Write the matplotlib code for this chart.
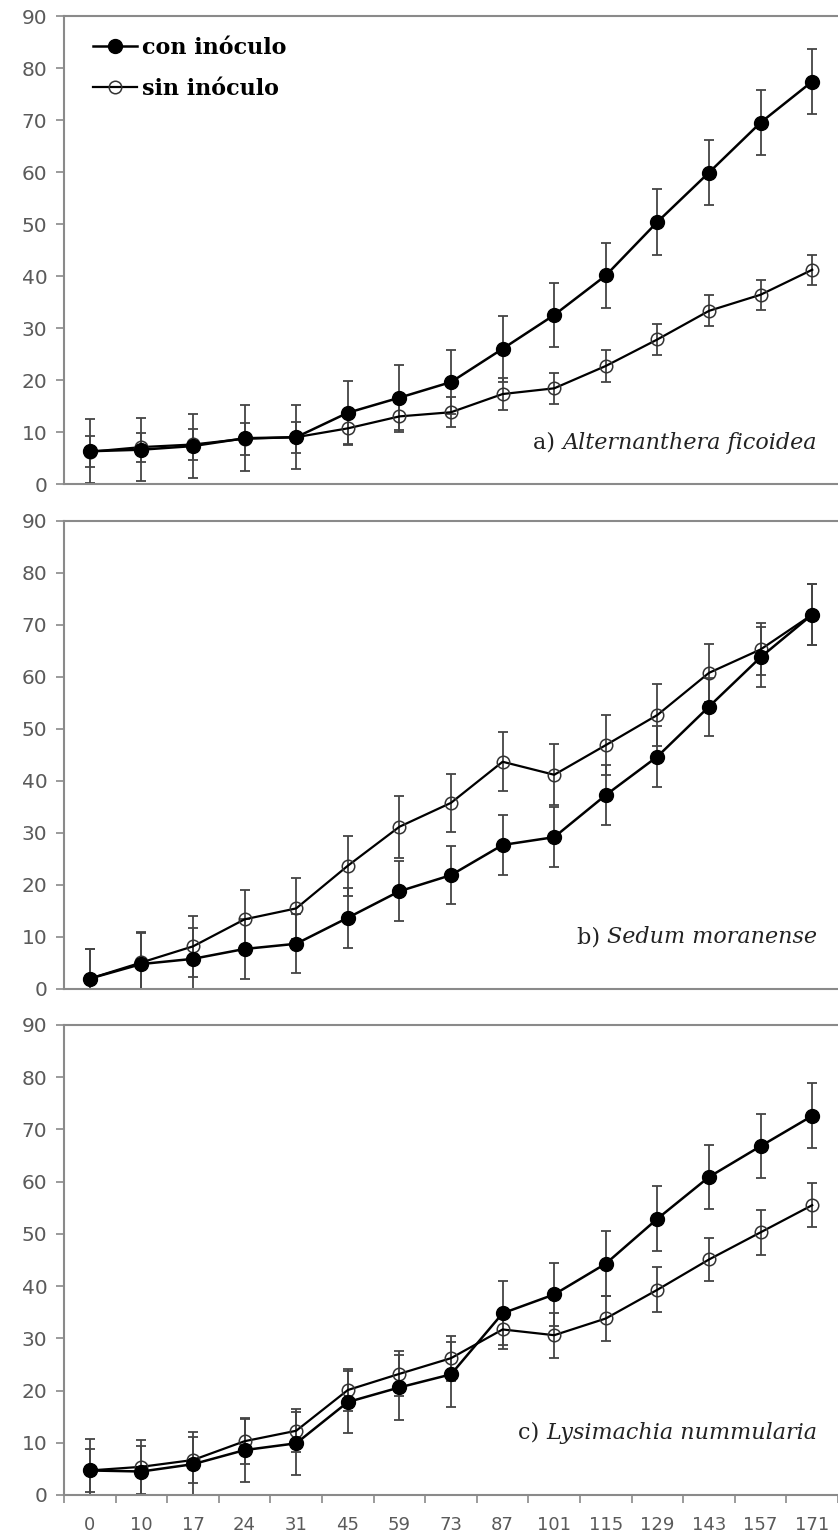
import numpy as np
import matplotlib
matplotlib.use("Agg")
import matplotlib.pyplot as plt
from matplotlib.ticker import FixedLocator, NullFormatter

# ---- data (days after planting, % cover) ----
days = ['0', '10', '17', '24', '31', '45', '59', '73', '87', '101', '115', '129', '143', '157', '171']

# a) Alternanthera ficoidea
a_con     = [6.3, 6.6, 7.3, 8.8, 9.0, 13.7, 16.6, 19.6, 26.0, 32.5, 40.1, 50.4, 59.9, 69.5, 77.4]
a_con_err = [6.2, 6.1, 6.2, 6.3, 6.2, 6.2, 6.3, 6.1, 6.3, 6.2, 6.2, 6.3, 6.3, 6.3, 6.2]
a_sin     = [6.2, 7.1, 7.6, 8.7, 9.0, 10.7, 13.0, 13.8, 17.3, 18.4, 22.7, 27.8, 33.3, 36.4, 41.2]
a_sin_err = [3.0, 2.8, 3.0, 3.1, 3.0, 3.0, 3.0, 2.9, 3.0, 3.0, 3.0, 3.0, 3.0, 2.9, 2.9]

# b) Sedum moranense
b_con     = [2.0, 4.8, 5.8, 7.7, 8.7, 13.7, 18.8, 21.9, 27.7, 29.2, 37.3, 44.7, 54.3, 63.8, 72.0]
b_con_err = [5.6, 6.0, 6.0, 5.7, 5.7, 5.8, 5.8, 5.6, 5.8, 5.8, 5.7, 5.8, 5.6, 5.8, 5.8]
b_sin     = [2.0, 5.1, 8.2, 13.4, 15.5, 23.7, 31.2, 35.8, 43.7, 41.2, 46.9, 52.7, 60.8, 65.3, 72.0]
b_sin_err = [5.6, 5.8, 5.8, 5.7, 5.9, 5.8, 6.0, 5.6, 5.7, 5.9, 5.8, 6.0, 5.6, 5.0, 5.8]

# c) Lysimachia nummularia
c_con     = [4.7, 4.5, 5.9, 8.6, 9.9, 17.8, 20.6, 23.1, 34.8, 38.4, 44.3, 52.9, 60.9, 66.8, 72.6]
c_con_err = [6.0, 4.9, 6.1, 6.1, 6.0, 6.0, 6.2, 6.2, 6.1, 6.1, 6.2, 6.2, 6.1, 6.1, 6.2]
c_sin     = [4.7, 5.4, 6.7, 10.3, 12.3, 20.1, 23.2, 26.2, 31.7, 30.6, 33.8, 39.3, 45.1, 50.3, 55.5]
c_sin_err = [4.2, 5.2, 4.4, 4.3, 4.1, 4.1, 4.3, 4.3, 3.8, 4.3, 4.3, 4.3, 4.2, 4.3, 4.2]

panels = [
    ('a)', 'Alternanthera ficoidea', a_con, a_con_err, a_sin, a_sin_err, 0.088),
    ('b)', 'Sedum moranense',        b_con, b_con_err, b_sin, b_sin_err, 0.111),
    ('c)', 'Lysimachia nummularia',  c_con, c_con_err, c_sin, c_sin_err, 0.132),
]

W, H = 838, 1538
fig = plt.figure(figsize=(W / 100, H / 100), dpi=100)
fig.patch.set_facecolor('white')

# axes boxes in pixels: (top, bottom)
boxes = [(16, 484), (521, 989), (1025, 1495)]
left_px, right_px = 64, 838

spine_col = '#8a8a8a'
tick_col = '#5a5a5a'
err_col = '#444444'
x = np.arange(len(days))

for i, ((lab, species, con, con_err, sin, sin_err, ty), (top, bot)) in enumerate(zip(panels, boxes)):
    ax = fig.add_axes([left_px / W, 1 - bot / H, (right_px - left_px) / W, (bot - top) / H])

    ax.errorbar(x, sin, yerr=sin_err, fmt='none', ecolor=err_col, elinewidth=1.3,
                capsize=3.5, capthick=1.3, zorder=2)
    ax.errorbar(x, con, yerr=con_err, fmt='none', ecolor=err_col, elinewidth=1.3,
                capsize=3.5, capthick=1.3, zorder=2)
    ax.plot(x, sin, '-o', color='black', lw=1.6, ms=9, mfc='none', mec='#333333',
            mew=1.1, label='sin inóculo', zorder=3)
    ax.plot(x, con, '-o', color='black', lw=1.8, ms=10, mfc='black', mec='black',
            label='con inóculo', zorder=4)

    ax.set_xlim(-0.5, len(days) - 0.5)
    ax.set_ylim(0, 90)
    ax.set_yticks(np.arange(0, 91, 10))
    ax.tick_params(axis='y', direction='out', length=6, width=1.2, color=spine_col,
                   labelcolor=tick_col, labelsize=14.5, pad=6)

    for s in ['left', 'top', 'bottom']:
        ax.spines[s].set_color(spine_col)
        ax.spines[s].set_linewidth(1.5)
    ax.spines['right'].set_visible(False)

    if i == 2:
        ax.set_xticks(x)
        ax.set_xticklabels(days)
        ax.tick_params(axis='x', which='major', length=0, labelcolor=tick_col,
                       labelsize=13, pad=15)
        ax.xaxis.set_minor_locator(FixedLocator(np.arange(-0.5, len(days), 1.0)))
        ax.xaxis.set_minor_formatter(NullFormatter())
        ax.tick_params(axis='x', which='minor', direction='out', length=6, width=1.2,
                       color=spine_col)
    else:
        ax.set_xticks([])

    # panel label: "a)" upright + species in italic
    t = ax.text(0.973, ty, species, transform=ax.transAxes, ha='right', va='center',
                fontsize=16, style='italic', family='DejaVu Serif', color='#222222')
    ax.annotate(lab + ' ', xy=(0, 0.5), xycoords=t, ha='right', va='center',
                fontsize=16, family='DejaVu Serif', color='#222222')

    if i == 0:
        h, l = ax.get_legend_handles_labels()
        ax.legend(h[::-1], l[::-1], loc='upper left', bbox_to_anchor=(0.037, 0.955),
                  frameon=False, borderpad=0, borderaxespad=0, handlelength=2.0,
                  handletextpad=0.2, labelspacing=0.85,
                  prop={'family': 'DejaVu Serif', 'weight': 'bold', 'size': 16})

fig.savefig('out.png', dpi=100, facecolor='white')
